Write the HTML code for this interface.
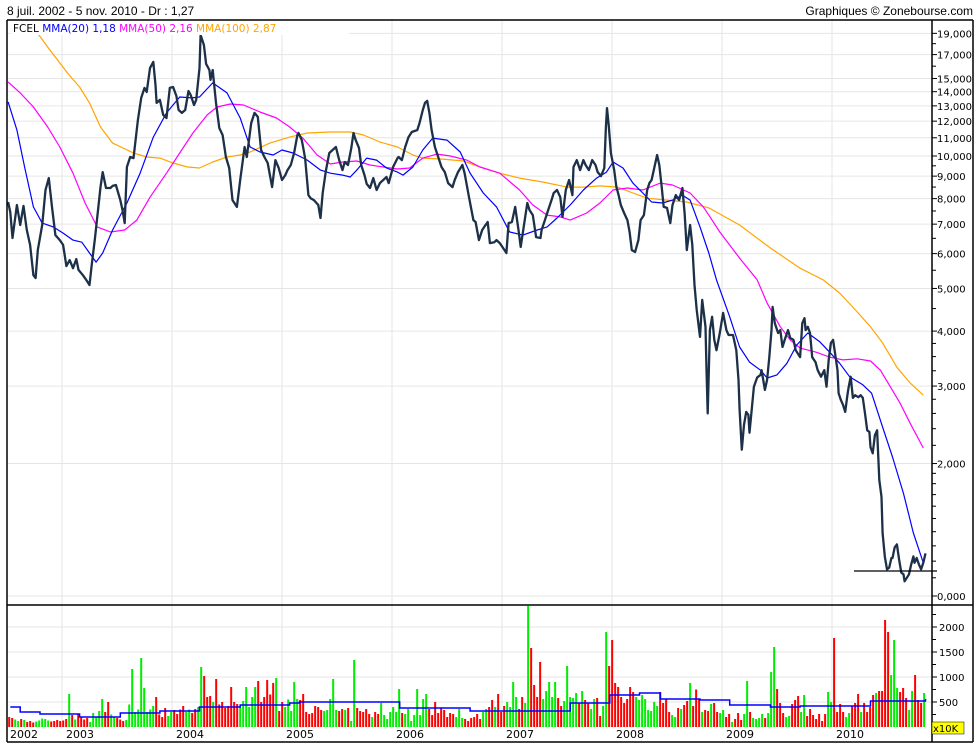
<!DOCTYPE html>
<html><head><meta charset="utf-8">
<style>
html,body{margin:0;padding:0;background:#fff;}
#wrap{position:relative;width:980px;height:750px;overflow:hidden;}
svg{position:absolute;left:0;top:0;}
</style></head>
<body>
<div id="wrap">
<svg id="chart" width="980" height="750" xmlns="http://www.w3.org/2000/svg">
  <text x="7" y="15" font-family="Liberation Sans, sans-serif" font-size="12" fill="#000">8 juil. 2002 - 5 nov. 2010 - Dr : 1,27</text>
  <text x="973" y="15" text-anchor="end" font-family="Liberation Sans, sans-serif" font-size="12" fill="#000">Graphiques © Zonebourse.com</text>
  <g id="grid"></g>
  <g id="vol"></g>
  <g id="lines"></g>
  <g id="axes"></g>
  <rect x="11" y="21" width="338" height="14" fill="#fff"/>
  <text x="13" y="32" font-family="DejaVu Sans, sans-serif" font-size="10.5"><tspan fill="#000">FCEL </tspan><tspan fill="#0000ff">MMA(20) 1,18 </tspan><tspan fill="#ff00ff">MMA(50) 2,16 </tspan><tspan fill="#ffa500">MMA(100) 2,87</tspan></text>
</svg>
</div>
<script>
// ---- data ----
const priceT=[2002.51,2002.53,2002.55,2002.59,2002.62,2002.65,2002.68,2002.71,2002.74,2002.76,2002.78,2002.82,2002.85,2002.88,2002.91,2002.94,2002.98,2003.01,2003.04,2003.07,2003.10,2003.13,2003.15,2003.19,2003.22,2003.25,2003.27,2003.30,2003.35,2003.37,2003.40,2003.44,2003.46,2003.49,2003.53,2003.55,2003.57,2003.59,2003.62,2003.65,2003.69,2003.72,2003.75,2003.77,2003.80,2003.83,2003.85,2003.86,2003.89,2003.92,2003.95,2003.98,2004.01,2004.04,2004.06,2004.09,2004.12,2004.15,2004.17,2004.20,2004.22,2004.25,2004.26,2004.29,2004.31,2004.34,2004.35,2004.37,2004.40,2004.43,2004.46,2004.49,2004.52,2004.55,2004.59,2004.62,2004.66,2004.68,2004.72,2004.75,2004.78,2004.81,2004.84,2004.87,2004.91,2004.94,2004.97,2005.00,2005.03,2005.05,2005.08,2005.11,2005.14,2005.15,2005.18,2005.21,2005.24,2005.26,2005.29,2005.33,2005.35,2005.37,2005.40,2005.43,2005.46,2005.49,2005.52,2005.55,2005.57,2005.60,2005.63,2005.65,2005.67,2005.70,2005.72,2005.75,2005.77,2005.80,2005.83,2005.86,2005.89,2005.92,2005.95,2005.97,2006.01,2006.05,2006.06,2006.09,2006.12,2006.15,2006.18,2006.23,2006.25,2006.28,2006.30,2006.32,2006.34,2006.36,2006.39,2006.42,2006.45,2006.48,2006.51,2006.55,2006.57,2006.60,2006.64,2006.66,2006.70,2006.74,2006.76,2006.79,2006.82,2006.85,2006.87,2006.89,2006.93,2006.95,2006.98,2007.01,2007.04,2007.06,2007.09,2007.12,2007.15,2007.17,2007.20,2007.23,2007.25,2007.28,2007.31,2007.35,2007.36,2007.39,2007.42,2007.45,2007.47,2007.50,2007.53,2007.55,2007.58,2007.61,2007.64,2007.65,2007.68,2007.71,2007.74,2007.76,2007.79,2007.82,2007.85,2007.87,2007.90,2007.93,2007.945,2007.955,2007.97,2007.99,2008.02,2008.04,2008.06,2008.08,2008.11,2008.14,2008.16,2008.18,2008.21,2008.24,2008.26,2008.29,2008.32,2008.34,2008.36,2008.39,2008.41,2008.43,2008.45,2008.47,2008.50,2008.53,2008.55,2008.58,2008.61,2008.64,2008.66,2008.68,2008.71,2008.73,2008.75,2008.77,2008.80,2008.82,2008.85,2008.86,2008.87,2008.89,2008.91,2008.93,2008.95,2008.98,2009.01,2009.04,2009.06,2009.10,2009.13,2009.15,2009.16,2009.18,2009.20,2009.22,2009.24,2009.25,2009.27,2009.29,2009.32,2009.35,2009.36,2009.39,2009.41,2009.43,2009.45,2009.46,2009.48,2009.51,2009.53,2009.55,2009.57,2009.60,2009.62,2009.65,2009.67,2009.71,2009.73,2009.75,2009.76,2009.78,2009.80,2009.82,2009.85,2009.87,2009.90,2009.93,2009.95,2009.97,2009.99,2010.01,2010.03,2010.05,2010.06,2010.08,2010.10,2010.12,2010.14,2010.15,2010.17,2010.19,2010.21,2010.24,2010.26,2010.28,2010.30,2010.32,2010.34,2010.35,2010.37,2010.39,2010.41,2010.43,2010.45,2010.46,2010.48,2010.50,2010.52,2010.54,2010.55,2010.57,2010.59,2010.61,2010.63,2010.65,2010.66,2010.68,2010.70,2010.72,2010.74,2010.75,2010.77,2010.79,2010.81,2010.83,2010.85];
const priceV=[7.86,7.45,6.51,7.74,6.97,7.70,6.79,6.28,5.36,5.28,6.11,6.97,8.37,8.91,7.62,6.61,6.44,6.28,5.62,5.80,5.56,5.83,5.51,5.36,5.23,5.09,5.65,6.51,8.50,9.19,8.46,8.46,8.55,8.59,7.94,7.54,7.04,9.44,9.95,9.89,12.07,13.55,14.28,13.98,15.84,16.36,14.50,13.20,13.41,12.40,12.20,14.28,14.35,13.69,12.72,12.53,12.72,14.05,13.76,13.06,13.41,15.84,18.84,17.88,16.19,15.68,14.89,15.68,13.20,11.58,11.16,9.95,9.39,7.94,7.66,8.82,10.48,9.95,11.88,12.53,12.27,10.32,9.95,9.64,8.50,9.79,9.39,8.82,9.05,9.29,9.54,10.16,11.16,11.28,10.87,9.89,8.15,8.02,7.94,7.74,7.23,8.24,9.29,10.16,10.32,10.48,9.79,9.29,9.69,9.54,10.43,11.28,10.87,10.43,9.54,9.05,8.64,8.46,8.91,8.37,8.68,8.82,8.96,8.68,9.44,9.89,9.95,9.79,10.48,11.04,11.34,11.46,11.88,12.72,13.20,13.34,12.53,11.46,10.48,9.95,9.44,9.19,8.68,8.50,8.82,9.19,9.54,9.14,8.06,7.15,7.08,6.44,6.79,6.97,7.08,6.34,6.37,6.44,6.34,6.18,6.02,7.04,7.08,7.66,6.79,6.21,6.97,7.82,7.54,7.34,6.54,6.51,6.79,7.15,7.54,7.94,8.24,8.37,8.06,7.27,8.37,8.82,8.15,9.44,9.79,9.29,9.79,9.54,9.29,9.79,9.54,9.19,9.00,9.39,11.64,12.85,11.76,10.16,9.29,8.50,8.15,7.74,7.42,7.15,6.72,6.11,6.05,6.44,7.15,7.34,8.37,8.68,8.82,9.54,10.05,9.54,8.59,7.66,7.62,7.04,7.74,8.15,7.94,8.46,7.42,6.11,6.97,6.28,5.09,4.47,3.88,4.71,4.09,3.21,2.60,4.02,4.31,3.82,3.62,3.96,4.40,4.02,3.92,3.92,3.62,3.10,2.65,2.15,2.45,2.62,2.58,2.35,2.65,2.99,3.14,3.18,3.26,2.94,3.10,3.49,4.02,4.54,4.17,3.96,4.02,3.68,3.82,4.02,3.86,3.82,3.62,3.49,4.17,4.28,4.02,4.09,3.96,3.49,3.40,3.26,3.15,3.26,2.99,3.44,3.76,3.82,3.53,3.26,2.89,2.79,2.72,2.62,2.86,2.97,3.15,2.82,2.86,2.83,2.86,2.82,2.60,2.38,2.36,2.18,2.11,2.32,2.38,1.835,1.68,1.39,1.23,1.15,1.16,1.22,1.22,1.29,1.31,1.21,1.13,1.12,1.08,1.10,1.12,1.18,1.23,1.19,1.22,1.18,1.15,1.19,1.25];

const ma20T=[2002.51,2002.59,2002.66,2002.74,2002.82,2002.92,2003.01,2003.10,2003.18,2003.25,2003.31,2003.37,2003.46,2003.59,2003.71,2003.83,2003.95,2004.07,2004.18,2004.25,2004.37,2004.50,2004.62,2004.71,2004.80,2004.92,2005.00,2005.10,2005.23,2005.35,2005.44,2005.55,2005.62,2005.68,2005.77,2005.86,2005.95,2006.05,2006.10,2006.19,2006.28,2006.37,2006.50,2006.62,2006.71,2006.83,2006.95,2007.07,2007.19,2007.32,2007.41,2007.50,2007.62,2007.74,2007.86,2007.95,2008.01,2008.10,2008.19,2008.28,2008.36,2008.46,2008.55,2008.64,2008.71,2008.80,2008.88,2008.95,2009.07,2009.16,2009.25,2009.35,2009.41,2009.50,2009.59,2009.68,2009.78,2009.89,2009.98,2010.07,2010.16,2010.28,2010.36,2010.46,2010.55,2010.65,2010.74,2010.83];
const ma20V=[13.27,11.46,9.44,7.66,7.04,6.90,6.68,6.44,6.37,6.02,5.74,6.02,6.79,7.82,9.14,11.04,12.53,13.62,13.55,13.62,14.66,13.91,12.20,10.48,10.21,10.05,10.32,10.16,9.79,9.29,9.14,9.05,8.96,9.29,9.89,9.79,9.39,9.19,9.05,9.44,10.32,10.98,10.87,10.21,9.14,8.24,7.66,6.72,6.61,6.79,6.90,7.23,7.74,8.37,8.91,9.19,9.69,9.39,8.68,8.24,7.86,7.82,7.94,8.15,7.94,6.90,6.02,5.23,4.31,3.68,3.40,3.26,3.13,3.18,3.38,3.72,3.96,3.78,3.58,3.38,3.15,3.02,2.89,2.42,2.07,1.71,1.39,1.19];

const ma50T=[2002.51,2002.62,2002.74,2002.87,2002.98,2003.10,2003.21,2003.32,2003.44,2003.57,2003.68,2003.80,2003.95,2004.07,2004.19,2004.32,2004.41,2004.53,2004.65,2004.80,2004.95,2005.07,2005.19,2005.32,2005.44,2005.55,2005.68,2005.80,2005.92,2006.05,2006.16,2006.28,2006.41,2006.53,2006.68,2006.80,2006.98,2007.16,2007.28,2007.41,2007.53,2007.62,2007.77,2007.89,2008.01,2008.14,2008.28,2008.44,2008.55,2008.71,2008.83,2008.88,2008.98,2009.16,2009.32,2009.41,2009.53,2009.62,2009.71,2009.86,2009.98,2010.10,2010.23,2010.35,2010.44,2010.53,2010.62,2010.71,2010.83];
const ma50V=[14.74,13.91,12.92,11.64,10.48,9.14,7.82,6.90,6.72,6.79,7.15,8.06,9.14,10.16,11.28,12.40,12.92,13.13,13.06,12.59,12.20,11.64,10.98,10.05,9.59,9.69,9.74,9.54,9.44,9.34,9.39,9.89,10.10,10.00,9.79,9.44,9.14,8.37,7.74,7.34,7.27,7.15,7.42,7.82,8.37,8.46,8.37,8.68,8.59,8.24,7.66,7.34,6.72,5.86,5.23,4.63,4.09,3.82,3.66,3.58,3.49,3.44,3.46,3.42,3.26,2.99,2.74,2.47,2.17];

const ma100T=[2002.64,2002.77,2002.89,2003.05,2003.16,2003.25,2003.35,2003.46,2003.65,2003.77,2003.89,2004.01,2004.14,2004.25,2004.37,2004.50,2004.62,2004.71,2004.89,2005.07,2005.23,2005.44,2005.62,2005.74,2005.89,2006.05,2006.19,2006.28,2006.46,2006.65,2006.80,2006.98,2007.16,2007.37,2007.59,2007.74,2007.89,2008.05,2008.19,2008.32,2008.50,2008.68,2008.88,2009.16,2009.44,2009.71,2009.92,2010.07,2010.23,2010.35,2010.46,2010.59,2010.71,2010.83];
const ma100V=[20.9,19.13,17.41,15.44,14.35,13.20,11.64,10.70,10.16,9.95,9.89,9.64,9.44,9.39,9.69,9.95,10.05,10.21,10.70,11.04,11.28,11.34,11.34,11.16,10.76,10.48,10.05,9.89,9.84,9.74,9.44,9.14,8.91,8.73,8.50,8.50,8.55,8.50,8.24,8.02,7.94,7.86,7.62,6.97,6.18,5.56,5.23,4.88,4.42,4.09,3.76,3.31,3.05,2.86];

// volume (x10K), one bar per 10 days starting 2002.52
const volStart=2002.52;
const volStepYears=0.02727;
const volume=[200,180,150,120,160,140,100,120,90,110,130,170,160,130,110,120,140,120,130,160,660,240,150,260,200,150,180,100,280,200,320,560,300,500,250,200,180,150,120,140,450,1160,300,350,1380,780,300,350,420,600,250,200,380,220,300,340,260,350,420,300,350,280,360,400,1200,1020,600,620,500,960,450,500,380,420,800,500,460,400,520,800,400,600,800,920,500,600,940,650,880,980,320,500,400,550,320,900,560,540,660,300,260,280,420,400,340,320,340,560,960,340,320,360,340,380,120,1340,380,320,300,360,260,200,300,260,480,240,160,300,400,300,760,280,260,360,120,240,760,240,560,660,360,240,500,280,380,340,200,280,260,200,360,180,160,120,180,200,260,160,300,360,400,540,400,660,300,420,500,400,900,600,360,600,480,2420,1580,840,600,1300,560,720,900,600,900,580,420,520,1220,600,580,680,480,720,540,480,360,560,580,220,420,1900,1220,1740,880,800,600,480,560,800,700,600,540,640,560,340,320,500,420,700,480,560,300,240,200,380,360,440,520,880,420,750,560,300,340,320,460,480,300,280,340,200,260,100,160,280,140,260,920,300,180,160,180,260,180,280,1100,1600,760,480,280,200,220,460,540,620,300,640,220,360,240,160,260,120,260,700,500,1780,300,460,300,200,280,420,480,660,300,480,300,400,640,680,720,720,2140,1900,1040,1740,780,700,780,580,340,720,1040,540,480,680];
const volMaT=[2002.53,2002.62,2002.80,2003.16,2003.53,2003.89,2004.25,2004.62,2005.07,2005.16,2006.07,2006.71,2007.16,2007.62,2007.98,2008.25,2008.44,2008.80,2009.07,2009.44,2009.71,2010.35,2010.85];
const volMaV=[400,300,260,200,280,320,400,440,480,500,380,320,320,480,640,680,560,540,440,400,420,520,560];

const yTicksMain=[1,2,3,4,5,6,7,8,9,10,11,12,13,14,15,17,19];
const yTickLabelsMain=["0,000","2,000","3,000","4,000","5,000","6,000","7,000","8,000","9,000","10,000","11,000","12,000","13,000","14,000","15,000","17,000","19,000"];
const yMinorMain=[1.1,1.2,1.3,1.4,1.5,1.6,1.7,1.8,1.9,2.2,2.4,2.6,2.8,3.25,3.5,3.75,4.5,5.5,6.5,7.5,8.5,9.5,16,18];
const volTicks=[500,1000,1500,2000];
const volTickLabels=["500","1000","1500","2000"];
const years=[2002,2003,2004,2005,2006,2007,2008,2009,2010];

// ---- geometry ----
const NS="http://www.w3.org/2000/svg";
const L=7,R=932,RB=973,T=20,MB=605,VB=727,B=742;
function xs(t){return 62+(t-2003)*110;}
function ys(v){return 596-440*Math.log10(v);}
function yv(v){return VB-v*0.05;}
function mk(tag,attrs,parent){const e=document.createElementNS(NS,tag);for(const k in attrs)e.setAttribute(k,attrs[k]);parent.appendChild(e);return e;}
const grid=document.getElementById('grid'),vol=document.getElementById('vol'),lines=document.getElementById('lines'),axes=document.getElementById('axes');

// grid
yTicksMain.forEach((v,i)=>{const g=mk('line',{x1:L,x2:R,y1:ys(v),y2:ys(v),stroke:'#e6e6e6','stroke-width':1},grid);

});
volTicks.forEach(v=>{const g=mk('line',{x1:L,x2:R,y1:yv(v),y2:yv(v),stroke:'#e6e6e6','stroke-width':1},grid);

});
years.slice(1).forEach(y=>{const g=mk('line',{x1:xs(y),x2:xs(y),y1:T,y2:VB,stroke:'#e6e6e6','stroke-width':1},grid);

});

// volume bars
function priceAt(t){for(let i=1;i<priceT.length;i++){if(priceT[i]>=t){const a=priceT[i-1],b=priceT[i];const f=(t-a)/(b-a||1);return priceV[i-1]+f*(priceV[i]-priceV[i-1]);}}return priceV[priceV.length-1];}
volume.forEach((v,i)=>{const t=volStart+i*volStepYears;const up=priceAt(t)>=priceAt(t-volStepYears);
const x=xs(t);const r=mk('rect',{x:x-1,y:yv(v),width:2,height:VB-yv(v),fill:up?'#00ee00':'#ff0000'},vol);

});
// volume MA step
let d='';volMaT.forEach((t,i)=>{const x=xs(t),y=yv(volMaV[i]);d+=(i?`H${x}V${y}`:`M${x},${y}`);});
const vm=mk('path',{d:d,fill:'none',stroke:'#0000ff','stroke-width':1.5},vol);



// price lines
const clip=mk('clipPath',{id:'mainclip'},mk('defs',{},lines));mk('rect',{x:L,y:T,width:R-L,height:MB-T},clip);
function line(T_,V_,color,w,name){const p=mk('polyline',{points:T_.map((t,i)=>xs(t).toFixed(1)+','+ys(V_[i]).toFixed(1)).join(' '),fill:'none',stroke:color,'stroke-width':w,'stroke-linejoin':'round','clip-path':'url(#mainclip)'},lines);

}
line(ma100T,ma100V,'#ffa500',1.2,'mma100-line');
line(ma50T,ma50V,'#ff00ff',1.2,'mma50-line');
line(ma20T,ma20V,'#0000ff',1.2,'mma20-line');
line(priceT,priceV,'#1c3048',2.3,'price-line');
const sl=mk('line',{x1:854,x2:937,y1:571,y2:571,stroke:'#000','stroke-width':1.2},lines);



// frame and axes
[[L,T,RB,T],[L,T,L,B],[L,B,RB,B],[RB,T,RB,B],[L,MB,RB,MB],[R,T,R,B]].forEach(a=>{const l=mk('line',{x1:a[0],y1:a[1],x2:a[2],y2:a[3],stroke:'#000','stroke-width':1.5},axes);

});
const F='DejaVu Sans, sans-serif';
yTicksMain.forEach((v,i)=>{const y=ys(v);mk('line',{x1:R,x2:R+5,y1:y,y2:y,stroke:'#000'},axes);
const t=mk('text',{x:R+5,y:y+4,'font-family':F,'font-size':10,fill:'#000'},axes);t.textContent=yTickLabelsMain[i];

});
yMinorMain.forEach(v=>{const y=ys(v);const m=mk('line',{x1:R,x2:R+4,y1:y,y2:y,stroke:'#000'},axes);

});
volTicks.forEach((v,i)=>{const y=yv(v);mk('line',{x1:R,x2:R+5,y1:y,y2:y,stroke:'#000'},axes);
const t=mk('text',{x:R+7,y:y+4,'font-family':F,'font-size':10,fill:'#000'},axes);t.textContent=volTickLabels[i];

});
[250,750,1250,1750,2250].forEach(v=>{const m=mk('line',{x1:R,x2:R+4,y1:yv(v),y2:yv(v),stroke:'#000'},axes);

});
const xb=mk('rect',{x:R,y:722,width:32,height:12,fill:'#ffff00',stroke:'#000','stroke-width':0.5},axes);


const xt=mk('text',{x:R+1,y:732,'font-family':F,'font-size':10,fill:'#000'},axes);xt.textContent='x10K';


years.forEach((yr,i)=>{const x=i===0?10:xs(yr)+4;const t=mk('text',{x:x,y:738,'font-family':F,'font-size':11,fill:'#000'},axes);t.textContent=yr;

});
</script>
</body></html>
